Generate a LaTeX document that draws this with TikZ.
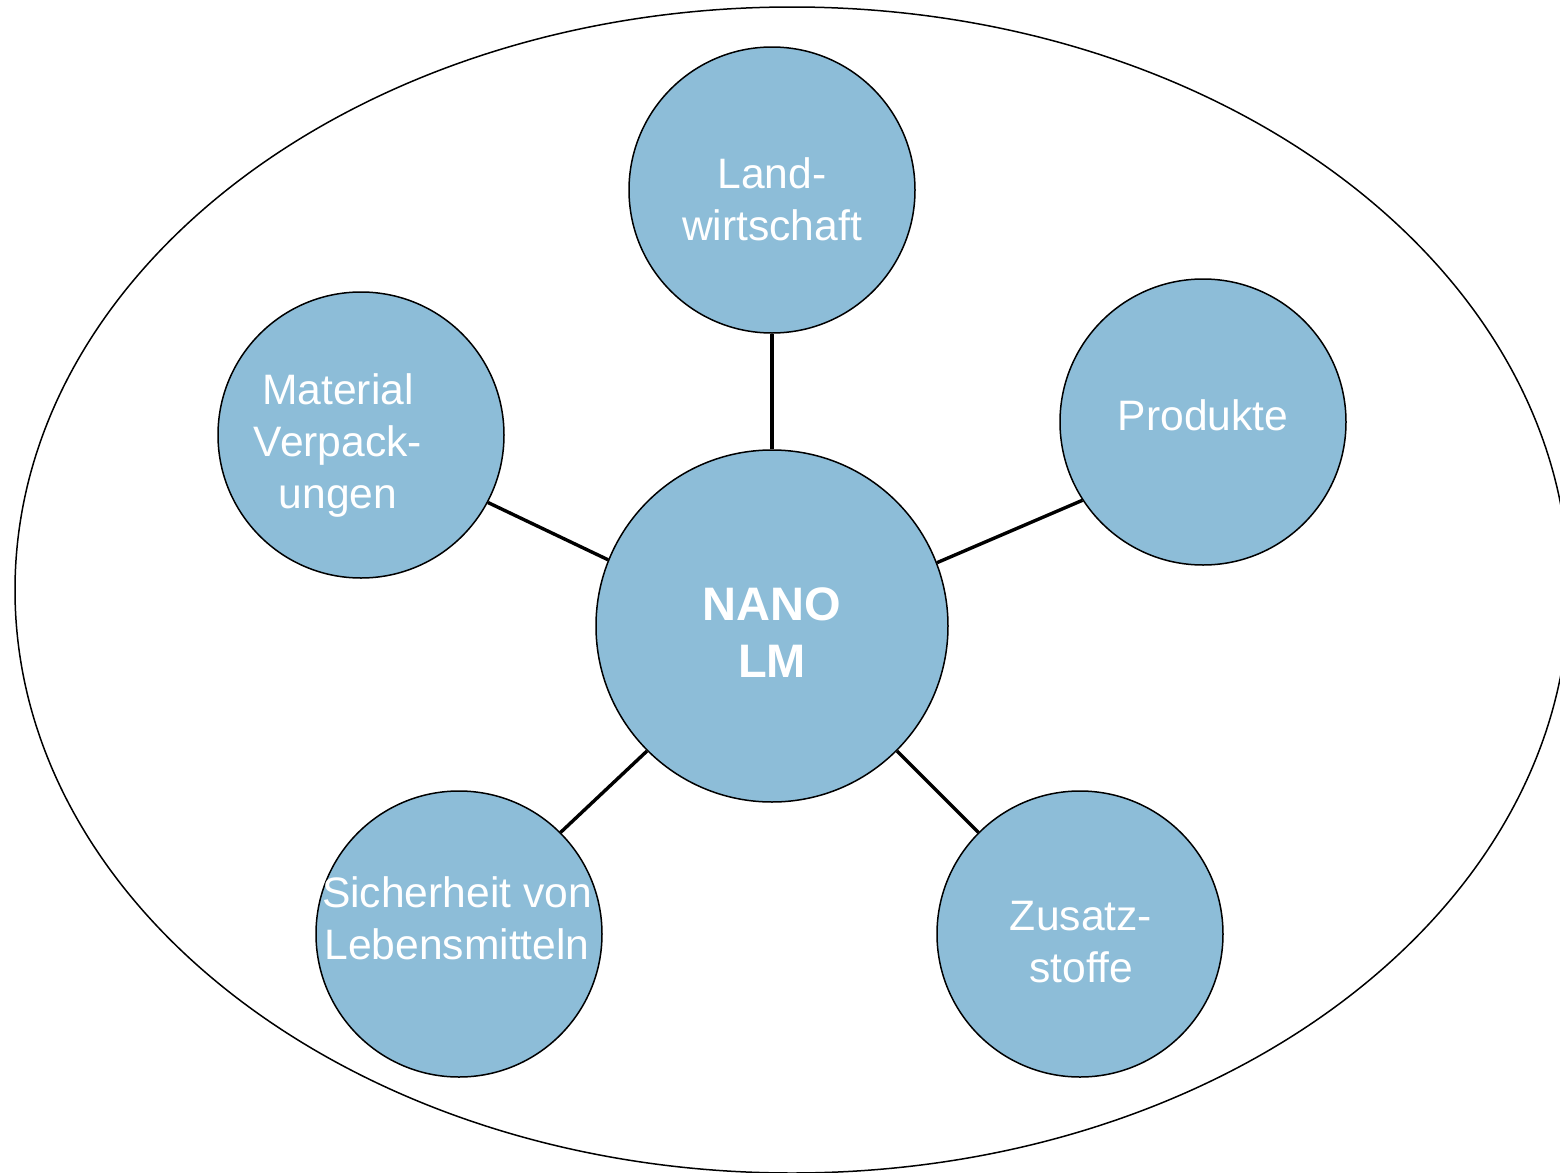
\documentclass[tikz,border=0pt]{standalone}
\usepackage{fontspec}
\setmainfont{Liberation Sans}
\definecolor{bubble}{HTML}{8DBDD8}
\begin{document}
\begin{tikzpicture}[x=0.5pt,y=-0.5pt,
  topic/.style={circle,draw=black,line width=0.75pt,fill=bubble,minimum size=143pt,inner sep=0pt},
  hub/.style={circle,draw=black,line width=0.75pt,fill=bubble,minimum size=176pt,inner sep=0pt},
  lbl/.style={text=white,align=center,font=\fontsize{21.3pt}{26pt}\selectfont,inner sep=0pt},
  hublbl/.style={text=white,align=center,font=\fontsize{23.5pt}{28.5pt}\selectfont\bfseries,inner sep=0pt},
  link/.style={line width=1.7pt,draw=black}]
\useasboundingbox (0,0) rectangle (1560,1173);
\draw[line width=0.75pt] (792,590) ellipse [x radius=388.5pt, y radius=291.5pt];
\node[hub] (c) at (772,626) {};
\node[topic] (land) at (772,190) {};
\node[topic] (mat) at (361,435) {};
\node[topic] (prod) at (1203,422) {};
\node[topic] (sich) at (459,934) {};
\node[topic] (zus) at (1080,934) {};
\draw[link] (c.90) -- (land.270);
\draw[link] (c.158) -- (mat.332.7);
\draw[link] (c.21.7) -- (prod.213);
\draw[link] (c.225) -- (sich.45);
\draw[link] (c.315) -- (zus.135);
\node[hublbl] (tc) at (772,633) {NANO\\LM};
\node[lbl] (tland) at (772,199) {Land-\\wirtschaft};
\node[lbl] (tmat) at (338,445) {Material\\Verpack-\\ungen};
\node[lbl] (tprod) at (1203,415) {Produkte};
\node[lbl] (tsich) at (457,918) {Sicherheit von\\Lebensmitteln};
\node[lbl] (tzus) at (1081,942) {Zusatz-\\stoffe};
\end{tikzpicture}
\end{document}
